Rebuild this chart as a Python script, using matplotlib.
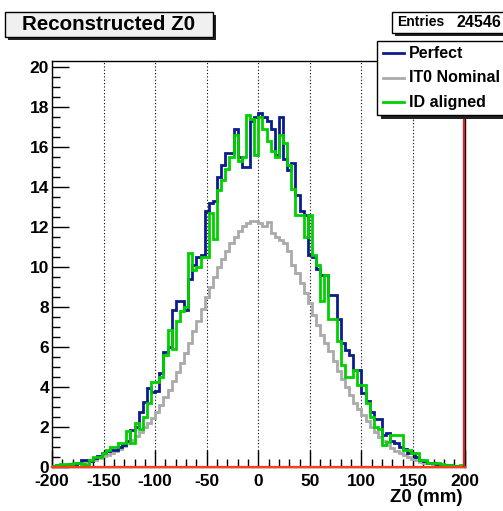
import numpy as np
import matplotlib
matplotlib.use("Agg")
import matplotlib.pyplot as plt
from matplotlib.patches import Rectangle
from matplotlib.lines import Line2D
from matplotlib.ticker import MultipleLocator

plt.rcParams["font.family"] = ["Liberation Sans", "DejaVu Sans"]
plt.rcParams["font.weight"] = "bold"
plt.rcParams["axes.unicode_minus"] = False

# 100 bins of 4 mm from -200 to 200
edges = np.arange(-200, 201, 4)

perfect = [
    0.05, 0.1, 0.1, 0.1, 0.15, 0.15, 0.2, 0.35, 0.35, 0.3,
    0.45, 0.55, 0.7, 0.8, 0.85, 0.85, 1.0, 1.1, 1.3, 1.85,
    2.0, 2.75, 3.25, 3.95, 3.75, 3.8, 4.7, 5.75, 6.0, 7.85,
    8.3, 8.3, 7.85, 9.4, 10.1, 10.5, 10.6, 12.8, 13.2, 13.3,
    14.5, 15.1, 15.7, 15.7, 16.9, 15.5, 15.0, 15.0, 17.3, 17.5,
    17.7, 17.5, 17.3, 16.9, 15.6, 17.5, 15.4, 14.85, 15.2, 13.6,
    12.8, 12.6, 10.6, 10.5, 9.9, 9.6, 9.6, 8.6, 8.6, 7.4,
    6.2, 5.85, 5.6, 4.85, 4.85, 3.7, 3.3, 2.75, 2.4, 2.4,
    1.6, 1.7, 1.3, 1.2, 1.0, 0.9, 0.68, 0.7, 0.5, 0.35,
    0.3, 0.2, 0.2, 0.15, 0.1, 0.1, 0.1, 0.05, 0.05, 0.05,
]

nominal = [
    0.05, 0.05, 0.08, 0.1, 0.12, 0.15, 0.18, 0.2, 0.25, 0.3,
    0.35, 0.45, 0.55, 0.62, 0.72, 0.8, 0.92, 1.05, 1.2, 1.35,
    1.55, 1.75, 2.0, 2.2, 2.45, 2.75, 3.1, 3.5, 3.85, 4.3,
    4.75, 5.2, 5.7, 6.2, 6.8, 7.3, 7.9, 8.5, 9.0, 9.5,
    10.0, 10.4, 10.8, 11.2, 11.5, 11.8, 12.05, 12.2, 12.3, 12.3,
    12.2, 12.05, 12.25, 11.7, 11.5, 11.35, 11.2, 10.8, 10.1, 9.7,
    9.2, 8.7, 8.2, 7.6, 7.1, 6.6, 6.2, 5.8, 5.3, 4.8,
    4.4, 4.0, 3.6, 3.2, 2.9, 2.6, 2.3, 2.0, 1.75, 1.5,
    1.3, 1.1, 0.95, 0.8, 0.68, 0.58, 0.48, 0.4, 0.33, 0.27,
    0.22, 0.18, 0.14, 0.11, 0.08, 0.06, 0.05, 0.04, 0.03, 0.02,
]

aligned = [
    0.05, 0.1, 0.15, 0.15, 0.15, 0.2, 0.2, 0.15, 0.1, 0.35,
    0.5, 0.5, 0.7, 0.85, 1.0, 1.0, 1.2, 1.2, 1.8, 1.2,
    2.2, 1.9, 2.5, 3.2, 4.27, 4.27, 4.5, 5.6, 6.85, 5.9,
    7.3, 7.8, 8.0, 10.7, 9.85, 10.0, 10.5, 10.5, 12.7, 11.4,
    13.85, 14.35, 14.9, 15.5, 16.6, 15.3, 15.5, 17.6, 17.4, 15.6,
    17.5, 16.9, 16.3, 15.8, 15.5, 16.6, 16.2, 15.1, 13.9, 12.6,
    12.6, 11.5, 12.6, 10.6, 10.1, 8.3, 9.6, 7.38, 7.38, 6.3,
    5.1, 4.5, 4.5, 4.85, 4.1, 4.1, 3.2, 2.5, 2.0, 1.9,
    1.1, 1.27, 1.6, 1.6, 1.6, 0.85, 0.85, 0.68, 0.68, 0.35,
    0.35, 0.2, 0.2, 0.2, 0.15, 0.1, 0.1, 0.05, 0.05, 0.1,
]

labels = ["Perfect", "IT0 Nominal", "ID aligned"]
entries = 24546

C_PERFECT = "#0b1c8c"
C_NOMINAL = "#aaaaaa"
C_ALIGNED = "#00d000"

W, H = 503, 511


def fx(px):
    return px / W


def fy(py):
    return 1 - py / H


def box(fig, x0, y0, x1, y1, face, shadow=3):
    # ROOT-style pave with a drop shadow (pixel coords, origin top-left)
    fig.add_artist(Rectangle((fx(x0 + shadow), fy(y1 + shadow)),
                             (x1 - x0) / W, (y1 - y0) / H,
                             transform=fig.transFigure, facecolor="#222222",
                             edgecolor="none", zorder=20))
    fig.add_artist(Rectangle((fx(x0), fy(y1)), (x1 - x0) / W, (y1 - y0) / H,
                             transform=fig.transFigure, facecolor=face,
                             edgecolor="black", linewidth=1.0, zorder=21))


fig = plt.figure(figsize=(W / 100, H / 100), dpi=100)
fig.patch.set_facecolor("white")
ax = fig.add_axes([fx(52), fy(467), (464.5 - 52) / W, (467 - 61) / H])

ax.stairs(nominal, edges, color=C_NOMINAL, linewidth=2.0, zorder=3)
ax.stairs(perfect, edges, color=C_PERFECT, linewidth=2.0, zorder=4)
ax.stairs(aligned, edges, color=C_ALIGNED, linewidth=2.0, zorder=5)

# red zero line and closing edge
ax.axhline(0, color="#ff3b1a", linewidth=1.6, zorder=6, clip_on=False)
ax.axvline(199.6, color="#e0201a", linewidth=1.6, zorder=6)

ax.set_xlim(-200, 200)
ax.set_ylim(0, 20.3)
ax.xaxis.set_major_locator(MultipleLocator(50))
ax.xaxis.set_minor_locator(MultipleLocator(10))
ax.yaxis.set_major_locator(MultipleLocator(2))
ax.yaxis.set_minor_locator(MultipleLocator(0.5))
ax.tick_params(which="both", direction="in", top=False, right=False,
               width=1.0, labelsize=12.5)
ax.tick_params(which="major", length=12)
ax.tick_params(axis="x", which="major", pad=5)
ax.tick_params(axis="y", which="major", pad=2)
ax.tick_params(which="minor", length=6)
for lab in ax.get_xticklabels() + ax.get_yticklabels():
    lab.set_fontweight("bold")
ax.grid(True, axis="x", which="major", color="black", linestyle=(0, (1, 2)),
        linewidth=0.8)
for s in ax.spines.values():
    s.set_linewidth(1.0)
ax.set_axisbelow(True)

fig.text(fx(462), fy(498), "Z0 (mm)", ha="right", va="center",
         fontsize=13.5, fontweight="bold")

# title pave
box(fig, 5, 12, 213, 37, "#f0f0f0")
fig.text(fx(109), fy(24.5), "Reconstructed Z0", ha="center", va="center",
         fontsize=14.8, fontweight="bold", zorder=22)

# stats pave
box(fig, 392, 12, 506, 33, "white")
fig.text(fx(397), fy(22.5), "Entries", ha="left", va="center",
         fontsize=10, fontweight="bold", zorder=22)
fig.text(fx(501), fy(22.5), f"{entries}", ha="right", va="center",
         fontsize=11.5, fontweight="bold", zorder=22)

# legend pave
box(fig, 377, 41, 506, 115, "white", shadow=4)
for lab, col, yy in zip(labels, [C_PERFECT, C_NOMINAL, C_ALIGNED], [53, 78, 102]):
    fig.add_artist(Line2D([fx(383), fx(404)], [fy(yy), fy(yy)], color=col,
                          linewidth=2.0, transform=fig.transFigure, zorder=22))
    fig.text(fx(409), fy(yy), lab, ha="left", va="center", fontsize=11.5,
             fontweight="bold", zorder=22)

fig.savefig("out.png", dpi=100)
